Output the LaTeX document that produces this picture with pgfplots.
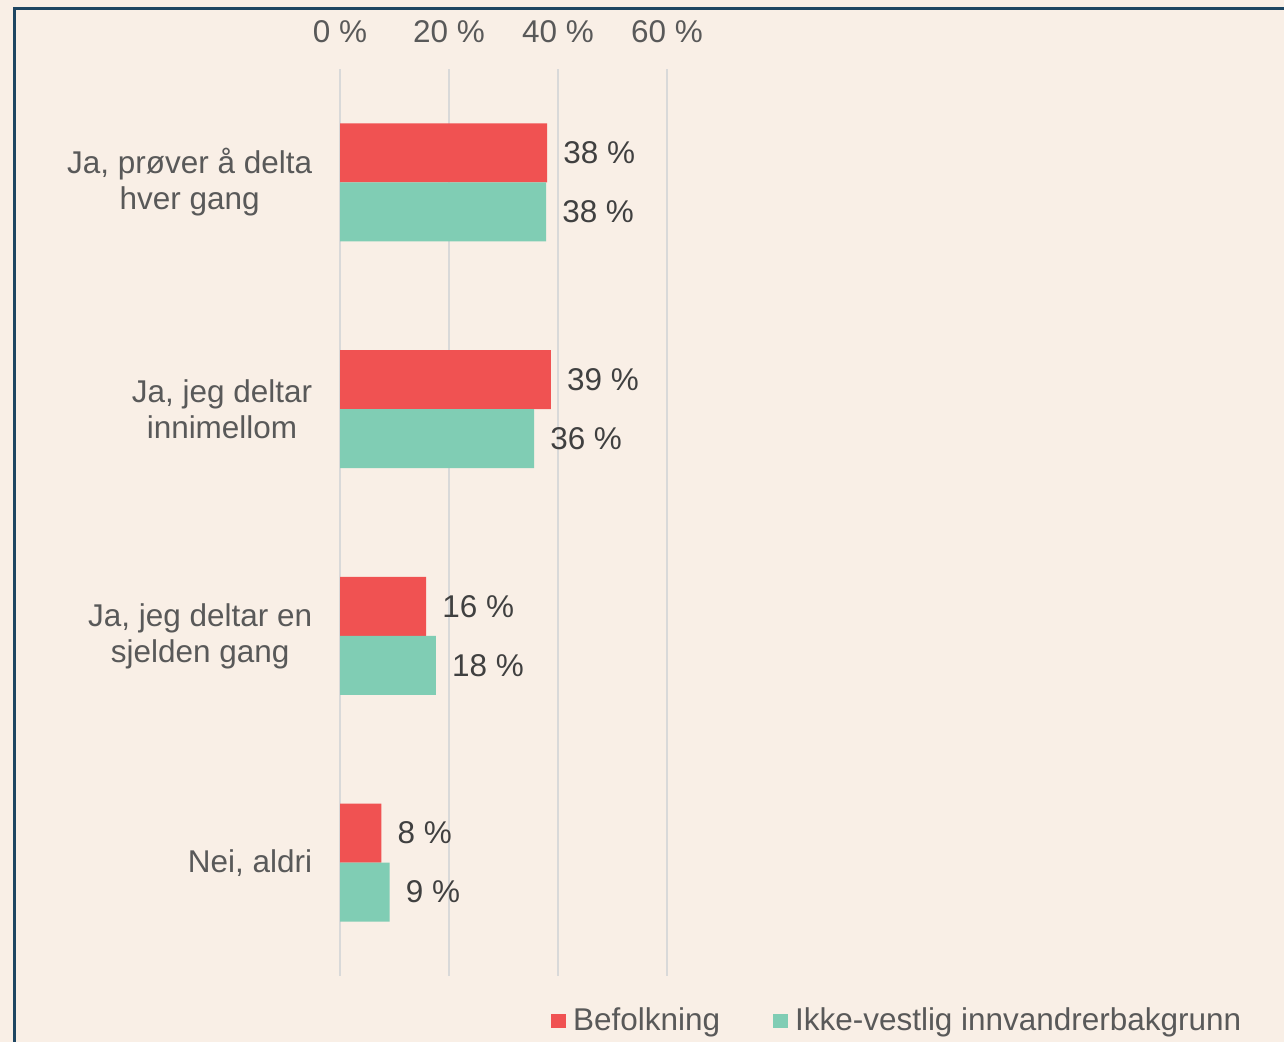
\documentclass[border=0pt]{standalone}
\usepackage{pgfplots}
\pgfplotsset{compat=1.18}
\usepackage{fontspec}
\setmainfont{Liberation Sans}
\definecolor{bg}{RGB}{249,239,230}
\definecolor{frame}{RGB}{30,70,98}
\definecolor{redbar}{RGB}{240,82,82}
\definecolor{greenbar}{RGB}{128,205,180}
\definecolor{gridc}{RGB}{217,217,217}
\definecolor{lbl}{RGB}{89,89,89}
\definecolor{dlbl}{RGB}{64,64,64}
\begin{document}
\fontsize{23.6bp}{27bp}\selectfont
\begin{tikzpicture}
\path[use as bounding box,fill=bg] (0bp,0bp) rectangle (963bp,781.5bp);
\draw[frame,line width=2.25bp] (10.5bp,-5bp) -- (10.5bp,774.75bp) -- (970bp,774.75bp);
\begin{axis}[
  at={(255bp,49.5bp)}, anchor=south west,
  scale only axis, width=245.25bp, height=680.25bp,
  xmin=0, xmax=60, ymin=0.5, ymax=4.5,
  enlargelimits=false, clip=false,
  /pgf/number format/assume math mode=true,
  xtick={0,20,40,60},
  xticklabel={\pgfmathprintnumber{\tick}~\%},
  xticklabel pos=upper,
  xticklabel style={anchor=base, yshift=19.5bp, inner sep=0pt, text=lbl},
  ytick={1,2,3,4},
  yticklabels={Nei{,} aldri, {Ja, jeg deltar en\\sjelden gang}, {Ja, jeg deltar\\innimellom}, {Ja, prøver å delta\\hver gang}},
  yticklabel style={align=center, anchor=east, inner sep=0pt, xshift=-16.5bp, text=lbl},
  axis line style={draw=none},
  major tick style={draw=none},
  xmajorgrids, grid style={gridc, line width=1.5bp},
  xbar, bar width=44.25bp,
  nodes near coords={\pgfmathprintnumber[fixed,precision=0]{\pgfplotspointmeta}~\%},
  point meta=x,
  every node near coord/.append style={anchor=west, inner sep=0pt, xshift=12bp, text=dlbl},
  legend columns=2,
  legend style={at={(0.645,-0.0496)}, anchor=west, draw=none, fill=none, inner sep=0pt,
    nodes={inner sep=0pt, text=lbl},
    /tikz/every odd column/.append style={column sep=5.25bp},
    /tikz/every even column/.append style={column sep=39.75bp}},
  legend cell align=left,
  legend image code/.code={\fill[#1] (0bp,-5.6bp) rectangle (11.25bp,5.6bp);},
]
\addplot+[draw=none, fill=redbar, bar shift=22.125bp] coordinates {(38,4) (38.7,3) (15.8,2) (7.6,1)};
\addlegendentry{Befolkning}
\addplot+[draw=none, fill=greenbar, bar shift=-22.125bp] coordinates {(37.8,4) (35.6,3) (17.6,2) (9.1,1)};
\addlegendentry{Ikke-vestlig innvandrerbakgrunn}
\end{axis}
\end{tikzpicture}
\end{document}
